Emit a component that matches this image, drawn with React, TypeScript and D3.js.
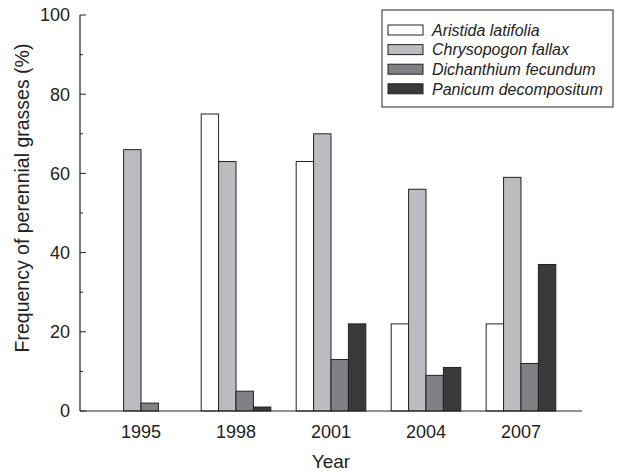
import * as d3 from 'd3'
import { useRef, useEffect } from 'react'

const years = ['1995', '1998', '2001', '2004', '2007']
const species = ['Aristida latifolia', 'Chrysopogon fallax', 'Dichanthium fecundum', 'Panicum decompositum']
const aristida = [0, 75, 63, 22, 22]
const chrysopogon = [66, 63, 70, 56, 59]
const dichanthium = [2, 5, 13, 9, 12]
const panicum = [0, 1, 22, 11, 37]
const colors = ['#ffffff', '#bbbcc0', '#808185', '#3a3a3a']
const yTicks = [0, 20, 40, 60, 80, 100]

export default function App() {
    const svgRef = useRef(null)
    const width = 630
    const height = 473

    useEffect(() => {
        const svg = d3.select(svgRef.current)
        svg.selectAll('*').remove()

        const font = '"Liberation Sans", Arial, sans-serif'
        const series = [aristida, chrysopogon, dichanthium, panicum]

        const x0 = d3.scaleBand()
            .domain(years)
            .range([80, 582])
            .paddingInner(0.267)
            .paddingOuter(0.276)

        const x1 = d3.scaleBand()
            .domain(species)
            .range([0, x0.bandwidth()])

        const y = d3.scaleLinear()
            .domain([0, 100])
            .range([411, 15])

        // bars
        years.forEach((yr, i) => {
            const g = svg.append('g').attr('transform', `translate(${x0(yr)},0)`)
            species.forEach((sp, j) => {
                const v = series[j][i]
                if (v <= 0) return
                g.append('rect')
                    .attr('x', x1(sp))
                    .attr('y', y(v))
                    .attr('width', x1.bandwidth())
                    .attr('height', y(0) - y(v))
                    .attr('fill', colors[j])
                    .attr('stroke', '#222')
                    .attr('stroke-width', 1)
            })
        })

        // y axis
        const yAxis = svg.append('g').attr('transform', 'translate(80,0)')
        yAxis.append('line')
            .attr('x1', 0).attr('x2', 0)
            .attr('y1', y(0)).attr('y2', y(100))
            .attr('stroke', '#222').attr('stroke-width', 1.2)
        d3.range(0, 101, 10).forEach(t => {
            yAxis.append('line')
                .attr('x1', 0).attr('x2', t % 20 === 0 ? 6 : 3)
                .attr('y1', y(t)).attr('y2', y(t))
                .attr('stroke', '#222').attr('stroke-width', 1)
        })
        yAxis.selectAll('text.tick')
            .data(yTicks)
            .enter()
            .append('text')
            .attr('x', -10)
            .attr('y', d => y(d))
            .attr('dy', '0.36em')
            .attr('text-anchor', 'end')
            .style('font-family', font)
            .style('font-size', '18px')
            .attr('fill', '#222')
            .text(d => d)

        // x axis
        svg.append('line')
            .attr('x1', 80).attr('x2', 582)
            .attr('y1', y(0)).attr('y2', y(0))
            .attr('stroke', '#222').attr('stroke-width', 1.2)
        svg.selectAll('text.xt')
            .data(years)
            .enter()
            .append('text')
            .attr('x', d => x0(d) + x0.bandwidth() / 2)
            .attr('y', 438)
            .attr('text-anchor', 'middle')
            .style('font-family', font)
            .style('font-size', '18px')
            .attr('fill', '#222')
            .text(d => d)

        // axis titles
        svg.append('text')
            .attr('x', 331)
            .attr('y', 468)
            .attr('text-anchor', 'middle')
            .style('font-family', font)
            .style('font-size', '19px')
            .attr('fill', '#222')
            .text('Year')
        svg.append('text')
            .attr('transform', 'translate(29,198) rotate(-90)')
            .attr('text-anchor', 'middle')
            .style('font-family', font)
            .style('font-size', '19.5px')
            .attr('fill', '#222')
            .text('Frequency of perennial grasses (%)')

        // legend
        const legend = svg.append('g')
        legend.append('rect')
            .attr('x', 382).attr('y', 10)
            .attr('width', 231).attr('height', 97)
            .attr('fill', 'white')
            .attr('stroke', '#222').attr('stroke-width', 1)
        species.forEach((sp, j) => {
            const cy = 30 + j * 19.6
            legend.append('rect')
                .attr('x', 388).attr('y', cy - 5)
                .attr('width', 35).attr('height', 10)
                .attr('fill', colors[j])
                .attr('stroke', '#222').attr('stroke-width', 1)
            legend.append('text')
                .attr('x', 432).attr('y', cy)
                .attr('dy', '0.36em')
                .style('font-family', font)
                .style('font-size', '16px')
                .style('font-style', 'italic')
                .attr('fill', '#222')
                .text(sp)
        })
    }, [])

    return (
        <svg ref={svgRef} width={width} height={height}
            style={{ position: 'absolute', left: 0, top: 0, background: 'white' }}></svg>
    )
}
